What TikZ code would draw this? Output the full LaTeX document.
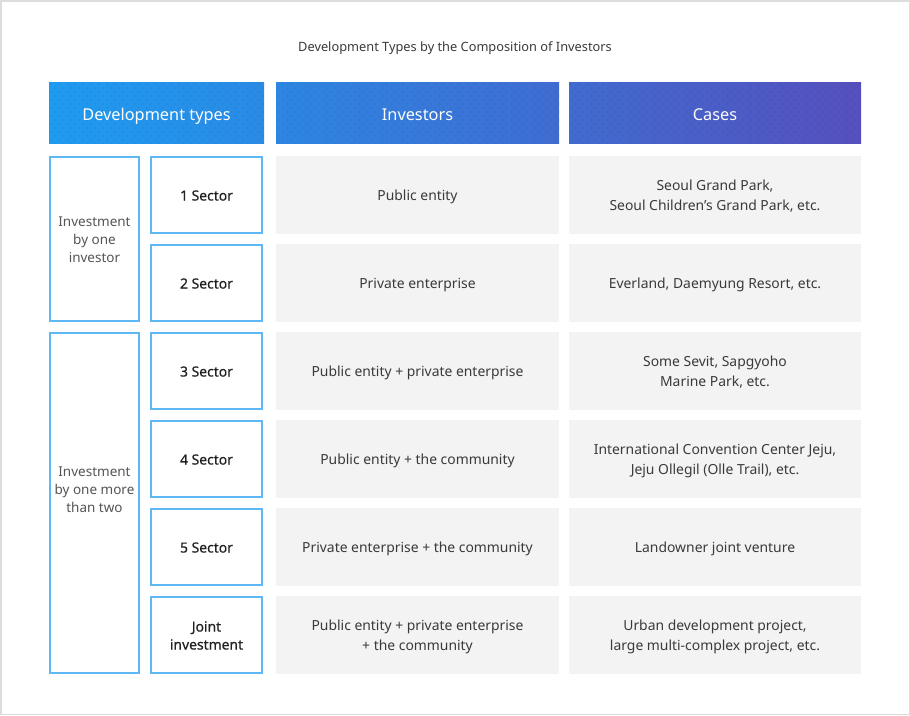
\documentclass[tikz,border=0pt]{standalone}
\usepackage{fontspec}
\setmainfont{Noto Sans}
\newfontfamily\typefont[FakeBold=0.6]{Noto Sans}
\definecolor{cellgray}{HTML}{F3F3F3}
\definecolor{boxblue}{HTML}{5DB8F5}
\definecolor{txt}{HTML}{3A3A3A}
\definecolor{typetxt}{HTML}{222222}
\definecolor{grptxt}{HTML}{555555}
\definecolor{frame}{HTML}{DDDDDD}
\definecolor{hA}{RGB}{30,155,240}
\definecolor{hB}{RGB}{42,138,229}
\definecolor{hC}{RGB}{45,134,226}
\definecolor{hD}{RGB}{64,108,209}
\definecolor{hE}{RGB}{65,107,208}
\definecolor{hF}{RGB}{85,80,190}
\newcommand{\topstrut}{\rule[-4pt]{0pt}{19pt}}
\newcommand{\botstrut}{\rule[-4pt]{0pt}{0pt}}
\newcommand{\mlstrut}{\rule{0pt}{15pt}}
\begin{document}
\begin{tikzpicture}[x=1pt,y=-1pt,
  hdr/.style={inner sep=0pt, text=white, font=\fontsize{16.3}{19}\selectfont,
    text height=15pt, text depth=0pt},
  struts/.style={execute at begin node=\topstrut, execute at end node=\botstrut},
  cell/.style={fill=cellgray, inner sep=0pt, text=txt, align=center, struts,
    font=\fontsize{13.9}{20}\selectfont, minimum height=78pt},
  typebox/.style={draw=boxblue, line width=2pt, fill=white, inner sep=0pt, text=typetxt,
    align=center, struts, font=\typefont\fontsize{13.9}{18}\selectfont, minimum width=111pt, minimum height=76pt},
  grpbox/.style={draw=boxblue, line width=2pt, fill=white, inner sep=0pt, minimum width=89pt},
  grptext/.style={inner sep=0pt, text=grptxt, align=center, struts, font=\fontsize{13.5}{18}\selectfont}
]
\useasboundingbox (0,0) rectangle (910,715);
\draw[frame, line width=1.5pt] (0.75,0.75) rectangle (909.25,714.25);

% title
\node[text=txt, font=\fontsize{12.8}{15}\selectfont] (title) at (455,48) {Development Types by the Composition of Investors};

% headers
\node[hdr, left color=hA, right color=hB, minimum width=215pt, minimum height=61pt] (h1) at (156.5,112.5) {Development types};
\node[hdr, left color=hC, right color=hD, minimum width=283pt, minimum height=61pt] (h2) at (417.5,112.5) {Investors};
\node[hdr, left color=hE, right color=hF, minimum width=292pt, minimum height=61pt] (h3) at (715,112.5) {Cases};
\begin{scope}
\clip (49,82) rectangle (264,143) (276,82) rectangle (559,143) (569,82) rectangle (861,143);
\foreach \r in {0,...,15}{
  \pgfmathsetmacro{\yy}{84+4*\r}
  \pgfmathsetmacro{\off}{mod(\r,2)*4}
  \foreach \c in {0,...,102}{
    \fill[black, opacity=0.07] ({51+\off+8*\c},\yy) circle (0.8pt);
  }
}
\end{scope}

% group boxes
\node[grpbox, minimum height=164pt] (g1) at (94.5,239) {};
\node[grptext] (g1t) at (94.5,239) {\mlstrut Investment\\by one\\investor};
\node[grpbox, minimum height=340pt] (g2) at (94.5,503) {};
\node[grptext] (g2t) at (94.5,489) {\mlstrut Investment\\by one more\\than two};

% type boxes
\node[typebox] (t1) at (206.5,195) {1 Sector};
\node[typebox] (t2) at (206.5,283) {2 Sector};
\node[typebox] (t3) at (206.5,371) {3 Sector};
\node[typebox] (t4) at (206.5,459) {4 Sector};
\node[typebox] (t5) at (206.5,547) {5 Sector};
\node[typebox] (t6) at (206.5,635) {\mlstrut Joint\\investment};

% investors
\node[cell, minimum width=283pt] (i1) at (417.5,195) {Public entity};
\node[cell, minimum width=283pt] (i2) at (417.5,283) {Private enterprise};
\node[cell, minimum width=283pt] (i3) at (417.5,371) {Public entity + private enterprise};
\node[cell, minimum width=283pt] (i4) at (417.5,459) {Public entity + the community};
\node[cell, minimum width=283pt] (i5) at (417.5,547) {Private enterprise + the community};
\node[cell, minimum width=283pt] (i6) at (417.5,635) {\mlstrut Public entity + private enterprise\\+ the community};

% cases
\node[cell, minimum width=292pt] (c1) at (715,195) {\mlstrut Seoul Grand Park,\\Seoul Children’s Grand Park, etc.};
\node[cell, minimum width=292pt] (c2) at (715,283) {Everland, Daemyung Resort, etc.};
\node[cell, minimum width=292pt] (c3) at (715,371) {\mlstrut Some Sevit, Sapgyoho\\Marine Park, etc.};
\node[cell, minimum width=292pt] (c4) at (715,459) {\mlstrut International Convention Center Jeju,\\Jeju Ollegil (Olle Trail), etc.};
\node[cell, minimum width=292pt] (c5) at (715,547) {Landowner joint venture};
\node[cell, minimum width=292pt] (c6) at (715,635) {\mlstrut Urban development project,\\large multi-complex project, etc.};
\end{tikzpicture}
\end{document}
